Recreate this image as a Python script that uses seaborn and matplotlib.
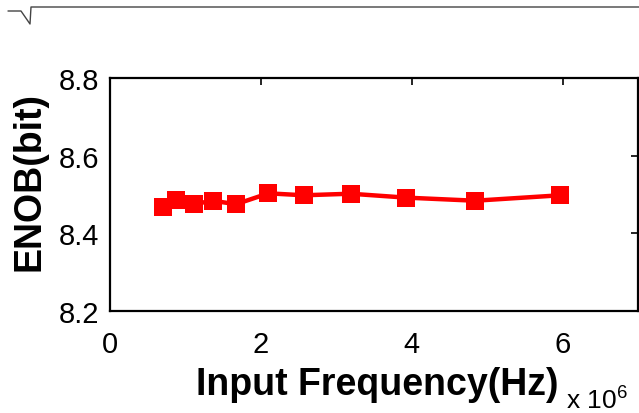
import numpy as np
import pandas as pd
import matplotlib
matplotlib.use("Agg")
import matplotlib.pyplot as plt
from matplotlib.lines import Line2D
import seaborn as sns

# input frequency (x 10^6 Hz) and measured ENOB
freq = [0.70, 0.87, 1.11, 1.36, 1.67, 2.10, 2.57, 3.19, 3.92, 4.84, 5.97]
enob = [8.469, 8.486, 8.475, 8.484, 8.475, 8.503, 8.498, 8.502, 8.492, 8.484, 8.498]
xticks = [0, 2, 4, 6]
yticks = [8.2, 8.4, 8.6, 8.8]

sns.set_style("white")
plt.rcParams['font.family'] = ['Liberation Sans', 'DejaVu Sans']
plt.rcParams['mathtext.fontset'] = 'custom'
plt.rcParams['mathtext.rm'] = 'Liberation Sans'
plt.rcParams['text.color'] = 'black'
plt.rcParams['axes.labelcolor'] = 'black'

df = pd.DataFrame({"freq": freq, "enob": enob})

fig = plt.figure(figsize=(6.39, 4.14), dpi=100)
ax = fig.add_axes([110/639, 1 - 312/414, 528/639, 233/414])

sns.lineplot(x="freq", y="enob", data=df, ax=ax, color="#ff0000",
             marker="s", markersize=13.5, markeredgewidth=0, linewidth=3.2)

ax.set_xlim(0, 7)
ax.set_ylim(8.2, 8.8)
ax.set_xticks(xticks)
ax.set_yticks(yticks)
ax.set_xticklabels([str(t) for t in xticks])
ax.set_yticklabels(["%.1f" % t for t in yticks])

for s in ax.spines.values():
    s.set_color("black")
    s.set_linewidth(1.6)

ax.tick_params(axis="both", direction="in", length=5, width=1.2, colors="black",
               labelsize=21, top=True, right=True)
ax.tick_params(axis="x", pad=14)
ax.tick_params(axis="y", pad=8)

ax.set_xlabel("Input Frequency(Hz)", fontsize=27, fontweight="bold", color="black")
ax.set_ylabel("ENOB(bit)", fontsize=27, fontweight="bold", color="black")
ax.xaxis.set_label_coords(0.507, -0.235)
ax.yaxis.set_label_coords(-0.118, 0.56)

fig.text(566/639, 5/414, r"x 10$^{6}$", fontsize=19, ha="left", va="baseline",
         color="black")

# radical-sign stroke at the top edge of the cropped page
px = [8, 21, 30, 31, 639]
py = [12, 12, 25, 8, 8]
fig.add_artist(Line2D([x/639 for x in px], [1 - y/414 for y in py],
                      color="#444444", linewidth=1.0, transform=fig.transFigure))

fig.savefig("out.png", dpi=100)
